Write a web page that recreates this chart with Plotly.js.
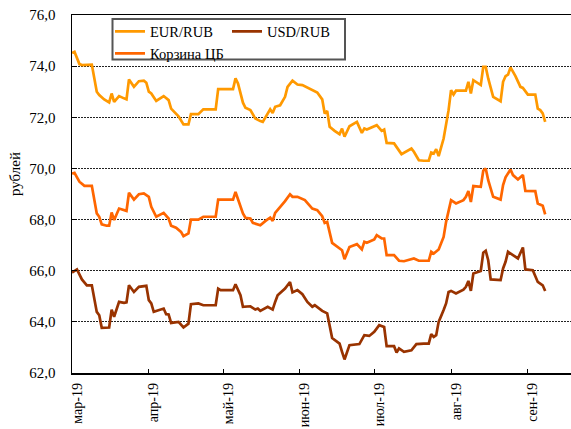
<!DOCTYPE html>
<html>
<head>
<meta charset="utf-8">
<script src="https://cdn.plot.ly/plotly-3.0.1.min.js"></script>
<style>
  html, body { margin: 0; padding: 0; background: #fff; }
  #chart { width: 571px; height: 429px; }
</style>
</head>
<body>
<div id="chart"></div>
<script>
// ---- data ----
const eurDates = ['03-01','03-02','03-04','03-05','03-09','03-10','03-11','03-12','03-14','03-16','03-17','03-18','03-20','03-22','03-23','03-24','03-26','03-28','03-30','03-31',
  '04-01','04-02','04-04','04-07','04-09','04-10','04-13','04-15','04-17','04-18','04-21','04-23','04-28','04-29',
  '05-05','05-06','05-07','05-09','05-10','05-12','05-14','05-16','05-17','05-20','05-21','05-22','05-24','05-26','05-27','05-29','05-31',
  '06-02','06-06','06-08','06-10','06-11','06-12','06-13','06-15','06-17','06-18','06-19','06-21','06-24','06-26','06-27','06-28',
  '07-02','07-04','07-05','07-06','07-09','07-12','07-16','07-17','07-19','07-21','07-23','07-24','07-25','07-26','07-27','07-29','07-30','07-31',
  '08-01','08-02','08-03','08-07','08-08','08-09','08-10','08-13','08-14','08-15','08-16','08-18','08-21','08-22','08-23','08-24','08-25','08-27','08-29','08-30',
  '09-01','09-04','09-05','09-06','09-07','09-08'];
const eurValues = [74.52,74.56,74.08,74.04,74.06,73.58,73.0,72.87,72.7,72.58,72.93,72.6,72.83,72.74,72.7,73.48,73.19,73.41,73.43,73.35,
  73.0,72.93,72.64,72.83,72.67,72.34,72.04,71.72,71.72,72.12,72.12,72.31,72.31,73.1,
  73.1,73.52,73.32,72.57,72.37,72.28,71.95,71.85,71.82,72.31,72.17,72.41,72.47,72.8,73.19,73.43,73.28,
  73.26,73.06,72.97,72.7,72.15,72.25,71.63,71.47,71.34,71.56,71.24,71.65,71.82,71.39,71.56,71.52,
  71.69,71.47,71.52,71.0,70.98,70.56,70.78,70.65,70.32,70.3,70.3,70.62,70.58,70.75,70.48,71.17,71.69,72.28,
  73.06,72.89,73.04,73.04,73.39,72.93,73.45,73.26,73.97,73.97,73.52,72.8,72.63,73.39,73.61,73.67,73.95,73.61,73.19,73.15,
  72.89,72.89,72.34,72.28,72.15,71.82];

const usdDates = ['03-01','03-03','03-05','03-07','03-09','03-10','03-11','03-12','03-13','03-16','03-17','03-18','03-20','03-22','03-23','03-24','03-26','03-28','03-31',
  '04-01','04-02','04-03','04-07','04-08','04-09','04-10','04-13','04-15','04-17','04-18','04-21','04-23','04-28','04-29','04-30',
  '05-05','05-06','05-08','05-09','05-12','05-13','05-14','05-15','05-16','05-19','05-21','05-22','05-23','05-26','05-28','05-29','05-31',
  '06-02','06-04','06-06','06-07','06-10','06-12','06-14','06-17','06-18','06-19','06-21','06-25','06-27','06-29',
  '07-01','07-03','07-05','07-06','07-09','07-10','07-11','07-13','07-16','07-18','07-21','07-23','07-24','07-25','07-26','07-27','07-29','07-30','07-31',
  '08-01','08-03','08-06','08-07','08-08','08-09','08-10','08-13','08-14','08-15','08-16','08-17','08-21','08-22','08-23','08-24','08-26','08-28','08-30','08-31',
  '09-03','09-05','09-07','09-08'];
const usdValues = [65.93,66.05,65.66,65.43,65.43,64.85,64.39,64.26,63.77,63.78,64.48,64.2,64.78,64.74,64.76,65.43,65.17,65.37,65.41,
  64.85,64.72,64.39,64.52,64.3,64.29,63.96,64.0,63.78,63.93,64.69,64.72,64.65,64.65,65.3,65.24,
  65.24,65.47,65.04,64.59,64.61,64.55,64.48,64.52,64.43,64.59,64.48,64.78,65.04,65.3,65.56,65.15,65.24,
  65.08,64.78,64.59,64.65,64.43,64.33,63.37,63.15,62.83,62.53,63.09,63.13,63.48,63.45,
  63.61,63.87,63.8,63.05,63.05,62.8,62.96,62.83,62.89,63.13,63.15,63.15,63.52,63.41,63.48,64.0,64.46,64.72,65.17,
  65.21,65.11,65.26,65.37,65.6,65.21,65.89,65.99,66.7,66.78,66.41,65.66,65.63,66.09,66.35,66.74,66.61,66.48,66.91,66.05,
  66.02,65.56,65.43,65.21];

const basketDates = ['03-01','03-02','03-04','03-06','03-09','03-10','03-11','03-12','03-13','03-15','03-16','03-17','03-18','03-20','03-22','03-23','03-24','03-26','03-28','03-30',
  '04-01','04-02','04-04','04-07','04-09','04-10','04-12','04-14','04-15','04-17','04-18','04-21','04-23','04-28','04-29',
  '05-05','05-06','05-07','05-09','05-10','05-12','05-13','05-16','05-18','05-20','05-21','05-22','05-26','05-28','05-29','05-31',
  '06-03','06-06','06-08','06-10','06-11','06-12','06-14','06-16','06-18','06-19','06-21','06-24','06-26','06-27','06-28',
  '07-01','07-02','07-04','07-05','07-06','07-09','07-11','07-13','07-17','07-19','07-23','07-24','07-25','07-27','07-29','07-30',
  '08-01','08-03','08-06','08-07','08-08','08-09','08-10','08-13','08-14','08-15','08-16','08-18','08-21','08-22','08-23','08-25','08-26','08-28','08-30','08-31',
  '09-04','09-05','09-07','09-08'];
const basketValues = [69.80,69.83,69.48,69.32,69.32,68.76,68.24,68.11,67.81,67.76,67.76,68.28,67.98,68.43,68.37,68.34,69.05,68.78,68.99,69.02,
  68.89,68.5,68.11,68.26,68.04,67.76,67.68,67.52,67.35,67.46,68.0,68.0,68.11,68.11,68.78,
  68.78,69.08,68.82,68.24,68.07,68.04,67.87,67.78,67.94,68.08,67.95,68.26,68.72,68.99,68.89,68.89,
  68.76,68.43,68.37,68.13,67.87,67.91,67.09,66.93,66.8,66.45,66.93,67.04,66.83,67.13,67.09,
  67.22,67.39,67.26,67.26,66.61,66.61,66.39,66.37,66.48,66.39,66.39,66.74,66.67,66.83,67.32,67.91,
  68.76,68.63,68.76,68.89,69.12,68.69,69.31,69.28,69.91,70.0,69.54,68.89,68.78,69.35,69.65,69.96,69.74,69.57,69.74,69.12,
  69.11,68.63,68.54,68.2];

const seriesNames = ['EUR/RUB', 'USD/RUB', 'Корзина ЦБ'];
const tickDates = ['2019-03-01','2019-04-01','2019-05-01','2019-06-01','2019-07-01','2019-08-01','2019-09-01'];
const tickLabels = ['мар-19','апр-19','май-19','июн-19','июл-19','авг-19','сен-19'];
const yTicks = [62, 64, 66, 68, 70, 72, 74, 76];
const yTitle = 'рублей';

// ---- chart ----
const full = d => d.map(s => '2019-' + s);
const FONT = 'Liberation Serif, Times New Roman, serif';
const W = 571, H = 429, ML = 72, MT = 15, MB = 56, MR = 0;
const PW = W - ML - MR, PH = H - MT - MB;
const px2x = px => (px - ML) / PW;        // pixel -> paper x
const px2y = py => 1 - (py - MT) / PH;    // pixel -> paper y

const traces = [
  { x: full(eurDates), y: eurValues, name: seriesNames[0], legend: 'legend',
    type: 'scatter', mode: 'lines', line: { color: '#FF9900', width: 2.7 } },
  { x: full(usdDates), y: usdValues, name: seriesNames[1], legend: 'legend2',
    type: 'scatter', mode: 'lines', line: { color: '#993300', width: 2.7 } },
  { x: full(basketDates), y: basketValues, name: seriesNames[2], legend: 'legend',
    type: 'scatter', mode: 'lines', line: { color: '#FF6600', width: 2.7 } }
];

const legendFont = { family: FONT, size: 14.5, color: '#000' };
const layout = {
  width: W, height: H,
  margin: { l: ML, r: MR, t: MT, b: MB, pad: 0 },
  paper_bgcolor: '#fff', plot_bgcolor: '#fff',
  separators: ', ',
  font: { family: FONT, size: 15, color: '#000' },
  showlegend: true,
  legend: {
    orientation: 'v', x: px2x(110), y: px2y(15.5), xanchor: 'left', yanchor: 'top',
    bgcolor: 'rgba(0,0,0,0)', borderwidth: 0, font: legendFont,
    itemwidth: 30, tracegroupgap: 0
  },
  legend2: {
    orientation: 'v', x: px2x(227), y: px2y(15.5), xanchor: 'left', yanchor: 'top',
    bgcolor: 'rgba(0,0,0,0)', borderwidth: 0, font: legendFont,
    itemwidth: 30
  },
  shapes: [
    { type: 'rect', xref: 'paper', yref: 'paper', layer: 'above',
      x0: px2x(112.5), x1: px2x(345), y0: px2y(19), y1: px2y(59.5),
      fillcolor: '#fff', line: { color: '#555', width: 2 } }
  ],
  xaxis: {
    type: 'date',
    range: ['2019-03-01', '2019-09-18 10:00'],
    tickmode: 'array', tickvals: tickDates, ticktext: tickLabels,
    tickangle: -90,
    ticks: 'inside', ticklen: 4, tickwidth: 1, tickcolor: '#000',
    showline: true, linecolor: '#000', linewidth: 1.5, mirror: true,
    showgrid: false, zeroline: false,
    ticklabelstandoff: 3, ticklabelshift: 5,
    tickfont: { family: FONT, size: 14, color: '#000' }
  },
  yaxis: {
    range: [62, 76],
    tickmode: 'array', tickvals: yTicks, tickformat: '.1f',
    ticks: 'inside', ticklen: 5, tickwidth: 1, tickcolor: '#000',
    showline: true, linecolor: '#000', linewidth: 1.5,
    showgrid: true, gridcolor: '#222', gridwidth: 1, griddash: '2px,1px',
    zeroline: false,
    ticklabelstandoff: 12,
    tickfont: { family: FONT, size: 15, color: '#000' }
  },
  annotations: [
    { text: yTitle, xref: 'paper', yref: 'paper', x: px2x(15), y: px2y(174),
      xanchor: 'center', yanchor: 'middle', textangle: -90, showarrow: false,
      font: { family: FONT, size: 15, color: '#000' } }
  ]
};

Plotly.newPlot('chart', traces, layout, { staticPlot: true, displayModeBar: false });
</script>
</body>
</html>
